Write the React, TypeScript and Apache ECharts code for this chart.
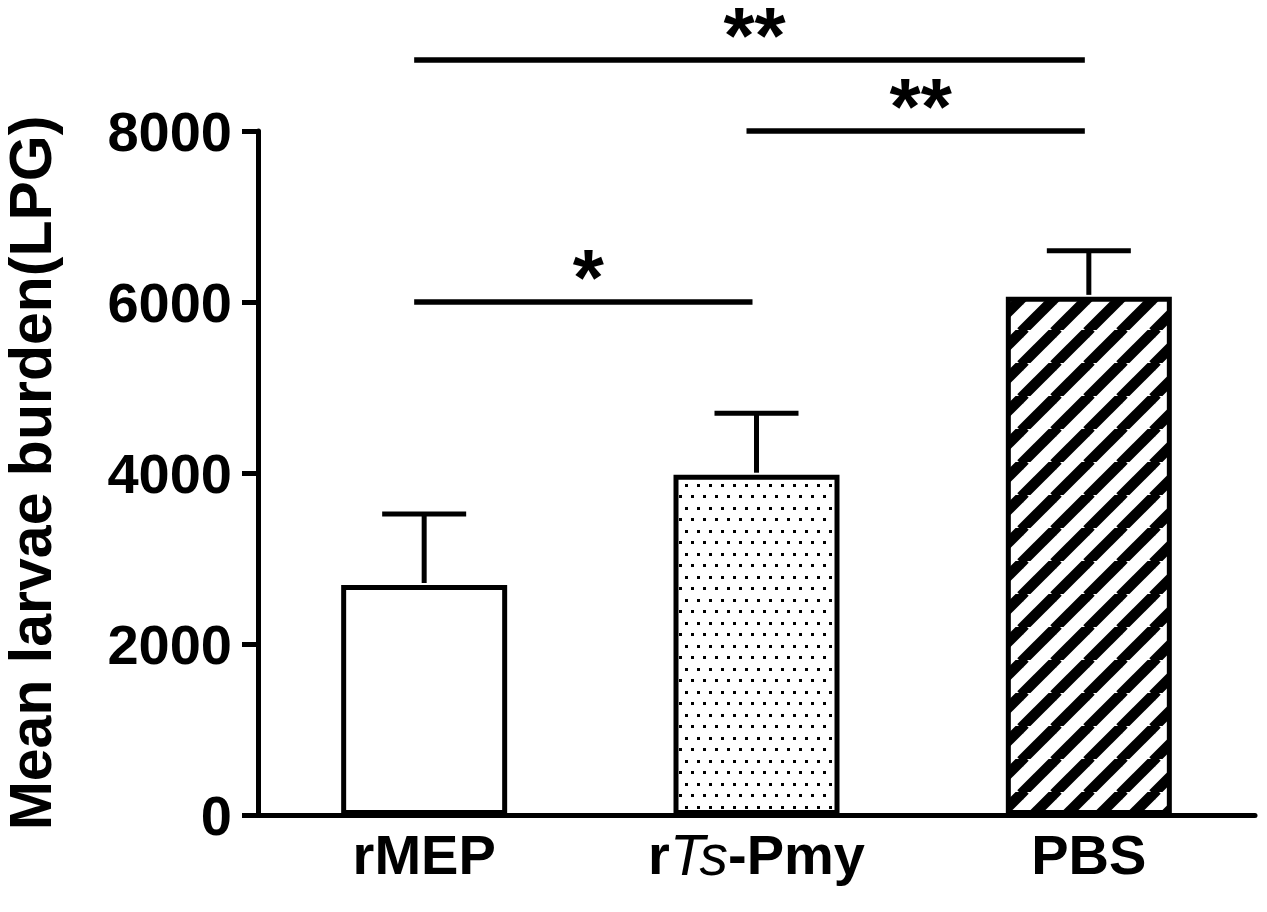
import React, { useEffect, useRef } from "react";
import * as echarts from "echarts";

const categories = ["rMEP", "rTs-Pmy", "PBS"];
const means = [2690, 3980, 6060];
const sds = [830, 720, 540];
const yTicks = [0, 2000, 4000, 6000, 8000];
// significance comparisons
const sigFrom = [0, 1, 0];
const sigTo = [2, 2, 1];
const sigLevel = [8830, 8000, 6000];
const sigText = ["**", "**", "*"];

const FONT = "'Liberation Sans', Arial, Helvetica, sans-serif";

function makeDots(): HTMLCanvasElement {
  const c = document.createElement("canvas");
  c.width = 12;
  c.height = 23;
  const ctx = c.getContext("2d")!;
  ctx.fillStyle = "#fff";
  ctx.fillRect(0, 0, 12, 23);
  ctx.fillStyle = "#000";
  ctx.fillRect(1, 1, 3, 3);
  ctx.fillRect(7, 12, 3, 3);
  return c;
}

function makeStripes(): HTMLCanvasElement {
  const s = 33;
  const c = document.createElement("canvas");
  c.width = s;
  c.height = s;
  const ctx = c.getContext("2d")!;
  ctx.fillStyle = "#fff";
  ctx.fillRect(0, 0, s, s);
  ctx.strokeStyle = "#000";
  ctx.lineWidth = 10.5;
  for (const off of [-s, 0, s]) {
    ctx.beginPath();
    ctx.moveTo(off - 2, s + 2);
    ctx.lineTo(off + s + 2, -2);
    ctx.stroke();
  }
  return c;
}

export default function App() {
  const ref = useRef<HTMLDivElement>(null);
  useEffect(() => {
    const chart = echarts.init(ref.current!, null, { renderer: "svg" });
    const dots = makeDots();
    const stripes = makeStripes();
    const fills: any[] = [
      "#ffffff",
      { image: dots, repeat: "repeat", imageWidth: dots.width, imageHeight: dots.height },
      { image: stripes, repeat: "repeat", imageWidth: stripes.width, imageHeight: stripes.height },
    ];

    const option: any = {
      animation: false,
      backgroundColor: "#ffffff",
      grid: {
        left: 258,
        right: 12,
        top: 131,
        bottom: 97,
        containLabel: false,
        outerBoundsMode: "none",
      },
      xAxis: {
        type: "category",
        data: categories,
        axisLine: { lineStyle: { color: "#000", width: 5 } },
        axisTick: { alignWithLabel: true, length: 18, lineStyle: { color: "#000", width: 5 } },
        axisLabel: {
          interval: 0,
          margin: 11,
          color: "#000",
          fontFamily: FONT,
          fontSize: 56,
          fontWeight: "bold",
          formatter: (v: string) =>
            v === "rTs-Pmy" ? "{b|r}{i|Ts}{b|-Pmy}" : "{b|" + v + "}",
          rich: {
            b: { fontFamily: FONT, fontSize: 56, fontWeight: "bold", color: "#000" },
            i: { fontFamily: FONT, fontSize: 57, fontWeight: "normal", fontStyle: "italic", color: "#000" },
          },
        },
      },
      yAxis: {
        type: "value",
        min: yTicks[0],
        max: yTicks[yTicks.length - 1],
        interval: 2000,
        name: "Mean larvae burden(LPG)",
        nameLocation: "middle",
        nameRotate: 90,
        nameGap: 202,
        nameTextStyle: {
          fontFamily: FONT,
          fontSize: 59,
          lineHeight: 50,
          fontWeight: "bold",
          color: "#000",
        },
        axisLine: { show: true, lineStyle: { color: "#000", width: 5 } },
        axisTick: { show: true, length: 16, lineStyle: { color: "#000", width: 5 } },
        splitLine: { show: false },
        axisLabel: {
          margin: 26,
          color: "#000",
          fontFamily: FONT,
          fontSize: 56,
          fontWeight: "bold",
          formatter: (v: number) => String(v),
        },
      },
      series: [
        {
          type: "bar",
          barWidth: 166,
          data: means.map((m, i) => ({
            value: m,
            itemStyle: { color: fills[i], borderColor: "#000", borderWidth: 5 },
          })),
          z: 2,
        },
        {
          type: "custom",
          clip: false,
          z: 3,
          data: means.map((m, i) => [i, m, m + sds[i]]),
          renderItem: (params: any, api: any) => {
            const base = api.coord([api.value(0), api.value(1)]);
            const top = api.coord([api.value(0), api.value(2)]);
            const half = 42;
            return {
              type: "group",
              children: [
                {
                  type: "line",
                  shape: { x1: base[0], y1: base[1] - 2, x2: top[0], y2: top[1] },
                  style: { stroke: "#000", lineWidth: 5 },
                },
                {
                  type: "line",
                  shape: { x1: top[0] - half, y1: top[1], x2: top[0] + half, y2: top[1] },
                  style: { stroke: "#000", lineWidth: 5 },
                },
              ],
            };
          },
        },
        {
          type: "custom",
          clip: false,
          z: 3,
          data: sigFrom.map((f, i) => [f, sigLevel[i], sigTo[i], i]),
          renderItem: (params: any, api: any) => {
            const i = api.value(3);
            const a = api.coord([api.value(0), api.value(1)]);
            const b = api.coord([api.value(2), api.value(1)]);
            const x1 = a[0] - 10;
            const x2 = b[0] - 4;
            return {
              type: "group",
              children: [
                {
                  type: "line",
                  shape: { x1, y1: a[1], x2, y2: a[1] },
                  style: { stroke: "#000", lineWidth: 5.5 },
                },
                {
                  type: "text",
                  x: (x1 + x2) / 2 + 5,
                  y: a[1] - 5,
                  style: {
                    text: sigText[i],
                    fontFamily: FONT,
                    fontSize: 80,
                    lineHeight: 40,
                    fontWeight: "bold",
                    fill: "#000",
                    align: "center",
                    verticalAlign: "bottom",
                  },
                },
              ],
            };
          },
        },
      ],
    };
    chart.setOption(option);
    return () => chart.dispose();
  }, []);
  return (
    <div
      ref={ref}
      style={{ position: "fixed", left: 0, top: 0, width: 1267, height: 912, background: "#fff" }}
    />
  );
}
